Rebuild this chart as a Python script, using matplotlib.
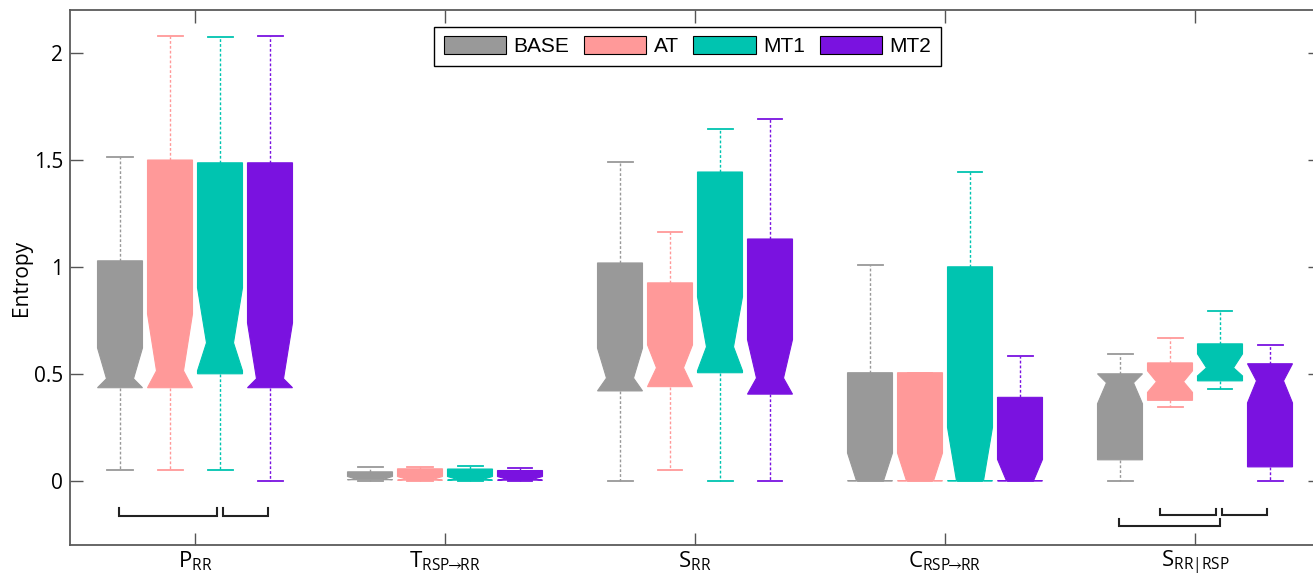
import matplotlib
matplotlib.use("Agg")
import matplotlib.pyplot as plt
from matplotlib.patches import Polygon, Patch

# ---------------- data ----------------
groups = ["P", "T", "S", "C", "S2"]
group_labels = [r"$\mathregular{P_{RR}}$",
                r"$\mathregular{T_{RSP\!\!\rightarrow\!\!RR}}$",
                r"$\mathregular{S_{RR}}$",
                r"$\mathregular{C_{RSP\!\!\rightarrow\!\!RR}}$",
                r"$\mathregular{S_{RR|RSP}}$"]
conditions = ["BASE", "AT", "MT1", "MT2"]
colors = ["#999999", "#FF9999", "#00C4B0", "#7A12E0"]

# rows = conditions (BASE, AT, MT1, MT2), cols = groups
whisker_hi = [[1.514, 0.065, 1.490, 1.010, 0.593],
              [2.080, 0.063, 1.163, 0.505, 0.668],
              [2.072, 0.070, 1.645, 1.445, 0.794],
              [2.080, 0.060, 1.690, 0.585, 0.636]]
q3 = [[1.028, 0.042, 1.018, 0.505, 0.500],
      [1.499, 0.056, 0.925, 0.505, 0.551],
      [1.486, 0.055, 1.443, 1.000, 0.640],
      [1.486, 0.048, 1.130, 0.390, 0.547]]
notch_hi = [[0.621, 0.020, 0.620, 0.130, 0.550],
            [0.780, 0.020, 0.635, 0.130, 0.514],
            [0.902, 0.020, 0.860, 0.250, 0.593],
            [0.738, 0.020, 0.660, 0.100, 0.600]]
median = [[0.477, 0.008, 0.480, 0.000, 0.458],
          [0.514, 0.008, 0.528, 0.000, 0.463],
          [0.645, 0.008, 0.626, 0.000, 0.528],
          [0.477, 0.008, 0.480, 0.000, 0.467]]
notch_lo = [[0.330, 0.000, 0.330, 0.000, 0.360],
            [0.250, 0.000, 0.420, 0.000, 0.413],
            [0.514, 0.000, 0.514, 0.000, 0.490],
            [0.220, 0.000, 0.300, 0.000, 0.364]]
q1 = [[0.435, 0.005, 0.420, 0.000, 0.098],
      [0.435, 0.003, 0.440, 0.000, 0.376],
      [0.500, 0.003, 0.505, 0.000, 0.467],
      [0.435, 0.003, 0.405, 0.000, 0.065]]
whisker_lo = [[0.051, 0.000, 0.000, 0.000, 0.000],
              [0.051, 0.000, 0.051, 0.000, 0.346],
              [0.051, 0.000, 0.000, 0.000, 0.430],
              [0.000, 0.000, 0.000, 0.000, 0.000]]

# significance brackets: (group, start offset, end offset, top y, bottom y)
brackets = [(1, -0.306, 0.086, -0.126, -0.164),
            (1, 0.110, 0.290, -0.126, -0.164),
            (5, -0.305, 0.098, -0.178, -0.210),
            (5, -0.142, 0.082, -0.131, -0.159),
            (5, 0.109, 0.286, -0.131, -0.159)]

yticks = [0, 0.5, 1, 1.5, 2]
ytick_labels = ["0", "0.5", "1", "1.5", "2"]

# ---------------- style ----------------
plt.rcParams["font.family"] = ["Open Sans", "DejaVu Sans"]
plt.rcParams["mathtext.fontset"] = "custom"
plt.rcParams["mathtext.rm"] = "Open Sans"
plt.rcParams["mathtext.it"] = "Open Sans"
plt.rcParams["mathtext.fallback"] = "stixsans"

W, H = 1313, 575
fig = plt.figure(figsize=(W / 100, H / 100), dpi=100)
ax_left, ax_right, ax_top, ax_bot = 70, 70 + 1250, 10, 545
ax = fig.add_axes([ax_left / W, (H - ax_bot) / H, (ax_right - ax_left) / W, (ax_bot - ax_top) / H])

offsets = [-0.3, -0.1, 0.1, 0.3]
bw = 0.18
inset = 0.2 * bw
capw = 0.1

for k, cond in enumerate(conditions):
    c = colors[k]
    for g in range(len(groups)):
        x = g + 1 + offsets[k]
        L, R = x - bw / 2, x + bw / 2
        # whiskers
        ax.plot([x, x], [q3[k][g], whisker_hi[k][g]], color=c, lw=1.0,
                ls=(0, (2, 1.5)), zorder=2)
        ax.plot([x, x], [q1[k][g], whisker_lo[k][g]], color=c, lw=1.0,
                ls=(0, (2, 1.5)), zorder=2)
        ax.plot([x - capw / 2, x + capw / 2], [whisker_hi[k][g]] * 2, color=c, lw=1.3, zorder=2)
        ax.plot([x - capw / 2, x + capw / 2], [whisker_lo[k][g]] * 2, color=c, lw=1.3, zorder=2)
        # notched box
        top, bot, med = q3[k][g], q1[k][g], median[k][g]
        nhi = min(notch_hi[k][g], top)
        nlo = max(notch_lo[k][g], bot)
        pts = [(L, top), (R, top), (R, nhi), (R - inset, med), (R, nlo), (R, bot),
               (L, bot), (L, nlo), (L + inset, med), (L, nhi)]
        ax.add_patch(Polygon(pts, closed=True, facecolor=c, edgecolor=c, lw=0.8, zorder=3))

for g, a, b, yt, yb in brackets:
    ax.plot([g + a, g + a, g + b, g + b], [yt, yb, yb, yt], color="#222222", lw=1.5,
            solid_joinstyle="miter", zorder=4)

ax.set_xlim(0.5, 5.5)
ax.set_ylim(-0.3, 2.2)
ax.set_xticks(range(1, 6))
ax.set_xticklabels(group_labels, fontsize=16)
ax.set_yticks(yticks)
ax.set_yticklabels(ytick_labels, fontsize=15)
ax.tick_params(direction="in", length=9, width=1.0, color="#555555",
               top=True, right=True, pad=5)
ax.tick_params(axis="x", pad=3)
for s in ax.spines.values():
    s.set_color("#5a5a5a")
    s.set_linewidth(1.3)
ax.set_ylabel("Entropy", fontsize=15, labelpad=1)

handles = [Patch(facecolor=colors[k], edgecolor="black", lw=0.8) for k in range(4)]
leg = ax.legend(handles, conditions, loc="upper center", bbox_to_anchor=(0.494, 0.968),
                ncol=4, frameon=True, fancybox=False, framealpha=1, edgecolor="black",
                prop={"family": "Liberation Sans", "size": 15},
                handlelength=3.0, handleheight=0.9, handletextpad=0.35,
                columnspacing=0.7, borderpad=0.45, borderaxespad=0)
leg.get_frame().set_linewidth(1.0)

fig.savefig("out.png", dpi=100)
